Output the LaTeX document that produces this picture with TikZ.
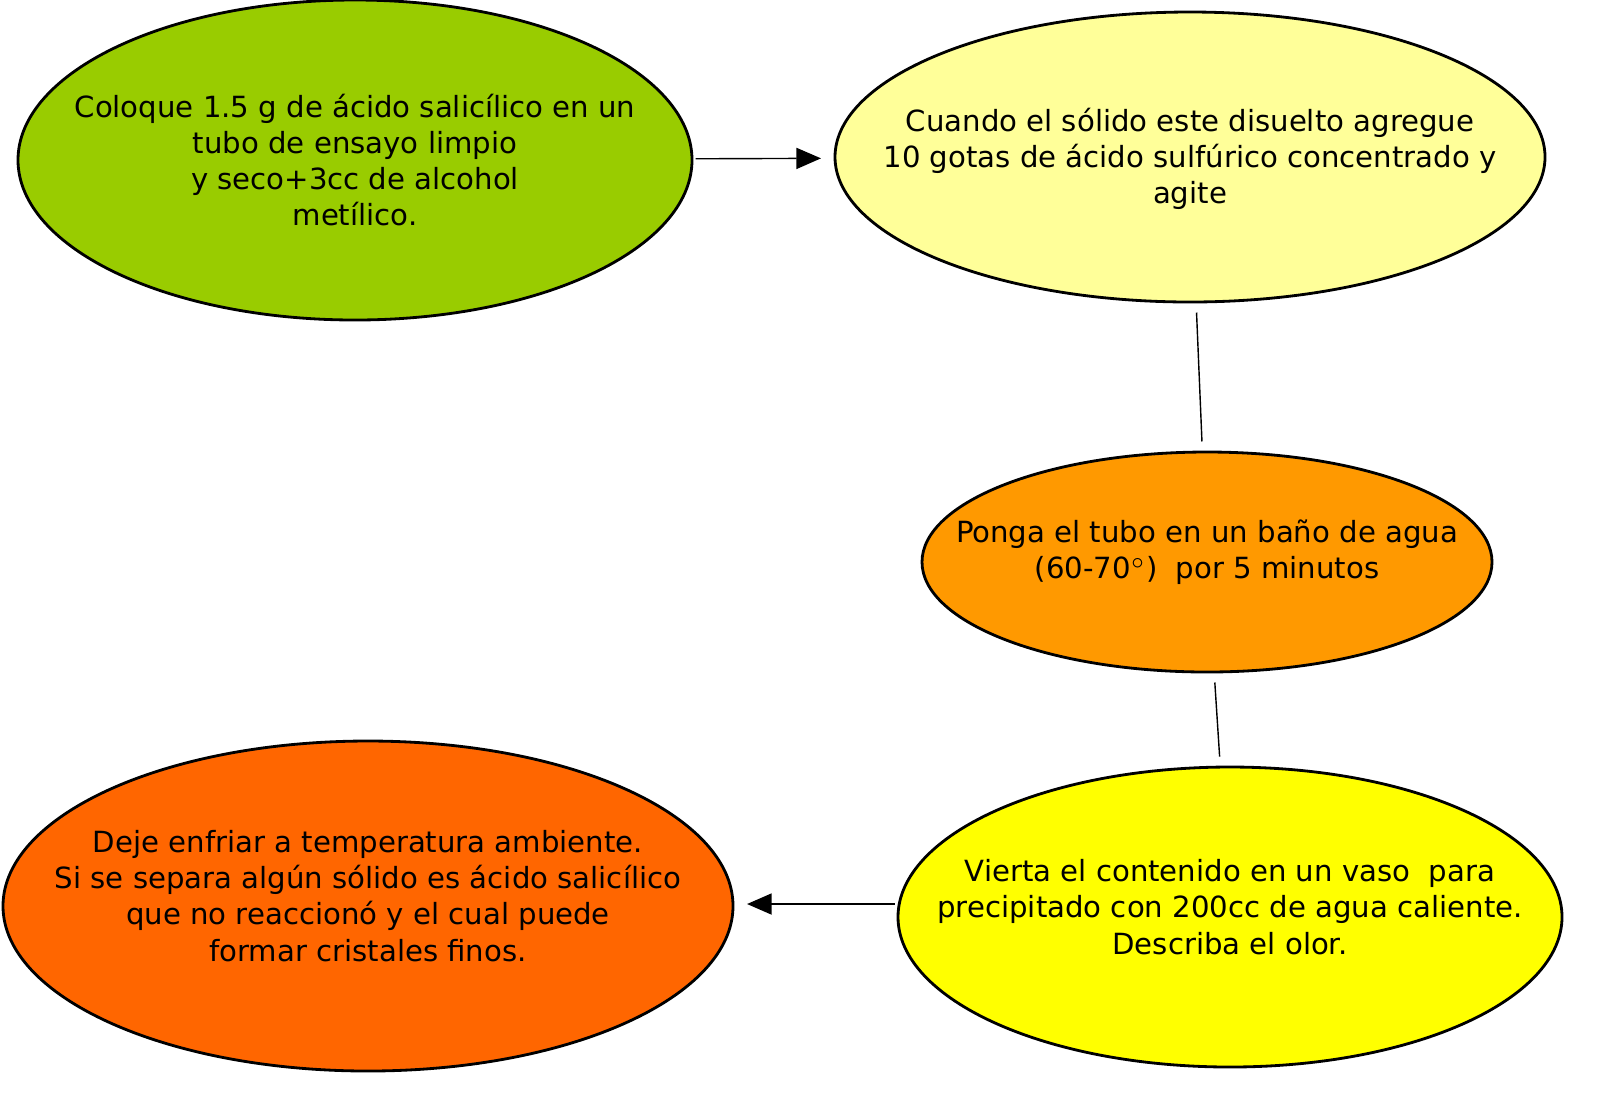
\documentclass[tikz,border=0pt]{standalone}
\usepackage{fontspec}
\setmainfont{DejaVu Sans}
\usetikzlibrary{shapes.geometric,arrows.meta}
\definecolor{verde}{HTML}{99CC00}
\definecolor{amarillo}{HTML}{FFFF99}
\definecolor{naranja}{HTML}{FF9900}
\definecolor{limon}{HTML}{FFFF00}
\definecolor{rojizo}{HTML}{FF6600}
\tikzset{
  paso/.style={ellipse, draw=black, thick, inner sep=0pt, outer sep=0pt},
  texto/.style={align=center, inner sep=0pt, font=\fontsize{8.3}{10.3}\selectfont},
  flecha/.style={-{Triangle[length=7pt,width=6pt]}, shorten <=1pt, shorten >=4pt},
  linea/.style={shorten <=3pt, shorten >=3pt}
}
\begin{document}
\begin{tikzpicture}
    \useasboundingbox (0,0) rectangle (16,-10.99);

    \node[paso, fill=verde, minimum width=6.74cm, minimum height=3.2cm] (coloque) at (3.55,-1.6) {};
    \node[texto] (tcoloque) at (coloque) {Coloque 1.5 g de ácido salicílico en un\\tubo de ensayo limpio\\y seco+3cc de alcohol\\metílico.};
    \node[paso, fill=amarillo, minimum width=7.1cm, minimum height=2.9cm] (cuando) at (11.9,-1.57) {};
    \node[texto] (tcuando) at ([yshift=-0.02cm]cuando) {Cuando el sólido este disuelto agregue\\10 gotas de ácido sulfúrico concentrado y\\agite};
    \node[paso, fill=naranja, minimum width=5.7cm, minimum height=2.2cm] (ponga) at (12.07,-5.62) {};
    \node[texto] (tponga) at ([yshift=0.1cm]ponga) {Ponga el tubo en un baño de agua\\(60-70$^{\circ}$)\ \ por 5 minutos};
    \node[paso, fill=limon, minimum width=6.64cm, minimum height=3.0cm] (vierta) at (12.3,-9.17) {};
    \node[texto] (tvierta) at ([yshift=0.1cm]vierta) {Vierta el contenido en un vaso\ \ para\\precipitado con 200cc de agua caliente.\\Describa el olor.};
    \node[paso, fill=rojizo, minimum width=7.3cm, minimum height=3.3cm] (deje) at (3.68,-9.06) {};
    \node[texto] (tdeje) at ([yshift=0.1cm]deje) {Deje enfriar a temperatura ambiente.\\Si se separa algún sólido es ácido salicílico\\que no reaccionó y el cual puede\\formar cristales finos.};

    \coordinate (salida) at ([yshift=0.13cm]vierta.west);
    \draw[flecha] (coloque) -- (cuando);
    \draw[linea] (cuando) -- (ponga);
    \draw[linea] (ponga) -- (vierta);
    \draw[flecha] (salida) -- (deje.east |- salida);
\end{tikzpicture}
\end{document}
